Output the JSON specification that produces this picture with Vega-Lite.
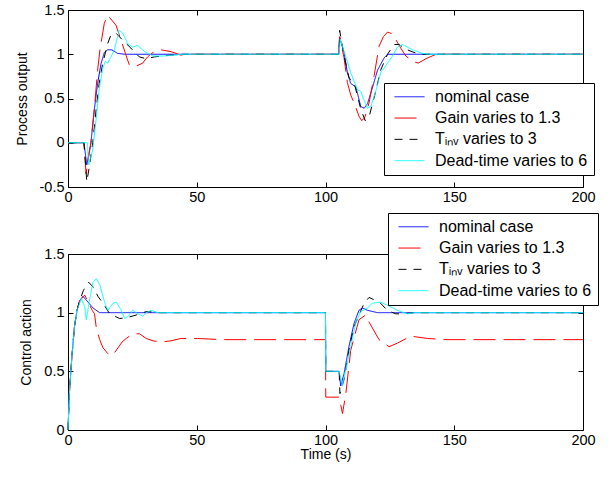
{
 "$schema": "https://vega.github.io/schema/vega-lite/v6.json",
 "background": "white",
 "padding": {"left": 14, "top": 1, "right": 8, "bottom": 8},
 "bounds": "flush",
 "spacing": 67,
 "resolve": {"legend": {"color": "independent", "strokeDash": "independent"}},
 "config": {
  "font": "Liberation Sans",
  "view": {"stroke": "#000", "strokeWidth": 1},
  "axis": {"domain": false, "grid": false, "tickSize": -5, "tickColor": "#000", "labelColor": "#000", "labelFontSize": 14.5, "labelFont": "Liberation Sans", "titleFont": "Liberation Sans", "titleFontWeight": "normal", "titleColor": "#000", "titleFontSize": 14, "labelPadding": 9, "titlePadding": 10},
  "axisX": {"labelFlush": false, "labelPadding": 8, "titlePadding": 1},
  "legend": {"orient": "none", "title": null, "fillColor": "white", "strokeColor": "black", "padding": 6, "symbolType": "stroke", "symbolSize": 900, "symbolStrokeWidth": 1, "labelFontSize": 16, "labelFont": "Liberation Sans", "labelColor": "black", "rowPadding": 4.3, "clipHeight": 15.5, "labelOffset": 10, "symbolOffset": 4, "labelLimit": 400}
 },
 "datasets": {
  "proc": [
   {"s":"nominal case","t":0,"v":0},{"s":"nominal case","t":6.2,"v":0},{"s":"nominal case","t":7.3,"v":-0.25},{"s":"nominal case","t":8.9,"v":0},{"s":"nominal case","t":10.2,"v":0.37},{"s":"nominal case","t":11.5,"v":0.67},{"s":"nominal case","t":12.8,"v":0.89},{"s":"nominal case","t":14.1,"v":1.02},{"s":"nominal case","t":15.4,"v":1.05},{"s":"nominal case","t":17,"v":1.05},{"s":"nominal case","t":19.3,"v":1.01},{"s":"nominal case","t":22,"v":1.0},{"s":"nominal case","t":105.2,"v":1.0},{"s":"nominal case","t":105.5,"v":1.19},{"s":"nominal case","t":107.2,"v":1.02},{"s":"nominal case","t":108.5,"v":0.79},{"s":"nominal case","t":109.8,"v":0.67},{"s":"nominal case","t":111.8,"v":0.63},{"s":"nominal case","t":113.7,"v":0.41},{"s":"nominal case","t":115,"v":0.39},{"s":"nominal case","t":116.3,"v":0.44},{"s":"nominal case","t":118.3,"v":0.63},{"s":"nominal case","t":120.2,"v":0.82},{"s":"nominal case","t":122.8,"v":0.96},{"s":"nominal case","t":124.1,"v":1.0},{"s":"nominal case","t":200,"v":1.0},
   {"s":"Gain varies to 1.3","t":0,"v":0},{"s":"Gain varies to 1.3","t":6.2,"v":0},{"s":"Gain varies to 1.3","t":7.0,"v":-0.35},{"s":"Gain varies to 1.3","t":8.9,"v":0},{"s":"Gain varies to 1.3","t":10.2,"v":0.37},{"s":"Gain varies to 1.3","t":11.5,"v":0.82},{"s":"Gain varies to 1.3","t":12.4,"v":1.05},{"s":"Gain varies to 1.3","t":14.1,"v":1.35},{"s":"Gain varies to 1.3","t":15.4,"v":1.44},{"s":"Gain varies to 1.3","t":18.6,"v":1.33},{"s":"Gain varies to 1.3","t":20.6,"v":1.16},{"s":"Gain varies to 1.3","t":22.5,"v":0.99},{"s":"Gain varies to 1.3","t":23.8,"v":0.88},{"s":"Gain varies to 1.3","t":26,"v":0.86},{"s":"Gain varies to 1.3","t":29,"v":0.9},{"s":"Gain varies to 1.3","t":30.9,"v":0.97},{"s":"Gain varies to 1.3","t":33,"v":1.02},{"s":"Gain varies to 1.3","t":36.1,"v":1.05},{"s":"Gain varies to 1.3","t":40,"v":1.03},{"s":"Gain varies to 1.3","t":43.8,"v":0.99},{"s":"Gain varies to 1.3","t":47,"v":1.0},{"s":"Gain varies to 1.3","t":105.2,"v":1.0},{"s":"Gain varies to 1.3","t":105.5,"v":1.2},{"s":"Gain varies to 1.3","t":107.2,"v":0.96},{"s":"Gain varies to 1.3","t":108.5,"v":0.68},{"s":"Gain varies to 1.3","t":109.8,"v":0.54},{"s":"Gain varies to 1.3","t":111.5,"v":0.42},{"s":"Gain varies to 1.3","t":113,"v":0.3},{"s":"Gain varies to 1.3","t":114,"v":0.25},{"s":"Gain varies to 1.3","t":115.2,"v":0.28},{"s":"Gain varies to 1.3","t":116.9,"v":0.45},{"s":"Gain varies to 1.3","t":118.9,"v":0.76},{"s":"Gain varies to 1.3","t":120.8,"v":1.09},{"s":"Gain varies to 1.3","t":122.5,"v":1.2},{"s":"Gain varies to 1.3","t":124.1,"v":1.25},{"s":"Gain varies to 1.3","t":126,"v":1.23},{"s":"Gain varies to 1.3","t":129.2,"v":1.07},{"s":"Gain varies to 1.3","t":131.2,"v":0.98},{"s":"Gain varies to 1.3","t":133.8,"v":0.92},{"s":"Gain varies to 1.3","t":136,"v":0.9},{"s":"Gain varies to 1.3","t":139,"v":0.95},{"s":"Gain varies to 1.3","t":143,"v":1.0},{"s":"Gain varies to 1.3","t":200,"v":1.0},
   {"s":"Tᵢₙᵥ varies to 3","t":0,"v":0},{"s":"Tᵢₙᵥ varies to 3","t":6.2,"v":0},{"s":"Tᵢₙᵥ varies to 3","t":7.3,"v":-0.44},{"s":"Tᵢₙᵥ varies to 3","t":8.3,"v":-0.27},{"s":"Tᵢₙᵥ varies to 3","t":9.6,"v":0},{"s":"Tᵢₙᵥ varies to 3","t":10.9,"v":0.37},{"s":"Tᵢₙᵥ varies to 3","t":12.1,"v":0.67},{"s":"Tᵢₙᵥ varies to 3","t":13.5,"v":0.9},{"s":"Tᵢₙᵥ varies to 3","t":15.4,"v":1.12},{"s":"Tᵢₙᵥ varies to 3","t":16.7,"v":1.22},{"s":"Tᵢₙᵥ varies to 3","t":18.6,"v":1.24},{"s":"Tᵢₙᵥ varies to 3","t":21.2,"v":1.16},{"s":"Tᵢₙᵥ varies to 3","t":24.4,"v":1.07},{"s":"Tᵢₙᵥ varies to 3","t":27.7,"v":0.97},{"s":"Tᵢₙᵥ varies to 3","t":30.3,"v":0.95},{"s":"Tᵢₙᵥ varies to 3","t":33.5,"v":0.97},{"s":"Tᵢₙᵥ varies to 3","t":40,"v":0.99},{"s":"Tᵢₙᵥ varies to 3","t":45,"v":1.0},{"s":"Tᵢₙᵥ varies to 3","t":105.2,"v":1.0},{"s":"Tᵢₙᵥ varies to 3","t":105.5,"v":1.27},{"s":"Tᵢₙᵥ varies to 3","t":107.2,"v":0.98},{"s":"Tᵢₙᵥ varies to 3","t":109.2,"v":0.73},{"s":"Tᵢₙᵥ varies to 3","t":111.1,"v":0.68},{"s":"Tᵢₙᵥ varies to 3","t":113.7,"v":0.38},{"s":"Tᵢₙᵥ varies to 3","t":115.4,"v":0.25},{"s":"Tᵢₙᵥ varies to 3","t":116.9,"v":0.29},{"s":"Tᵢₙᵥ varies to 3","t":119.5,"v":0.58},{"s":"Tᵢₙᵥ varies to 3","t":121.4,"v":0.82},{"s":"Tᵢₙᵥ varies to 3","t":124.1,"v":1.0},{"s":"Tᵢₙᵥ varies to 3","t":126.6,"v":1.11},{"s":"Tᵢₙᵥ varies to 3","t":128.5,"v":1.11},{"s":"Tᵢₙᵥ varies to 3","t":131.8,"v":1.05},{"s":"Tᵢₙᵥ varies to 3","t":134.4,"v":1.02},{"s":"Tᵢₙᵥ varies to 3","t":138,"v":1.0},{"s":"Tᵢₙᵥ varies to 3","t":200,"v":1.0},
   {"s":"Dead-time varies to 6","t":0,"v":0},{"s":"Dead-time varies to 6","t":7.5,"v":0},{"s":"Dead-time varies to 6","t":8.0,"v":-0.25},{"s":"Dead-time varies to 6","t":9.6,"v":-0.08},{"s":"Dead-time varies to 6","t":10.9,"v":0.26},{"s":"Dead-time varies to 6","t":12.1,"v":0.6},{"s":"Dead-time varies to 6","t":13.5,"v":0.84},{"s":"Dead-time varies to 6","t":14.5,"v":0.92},{"s":"Dead-time varies to 6","t":15.4,"v":0.9},{"s":"Dead-time varies to 6","t":16.7,"v":0.97},{"s":"Dead-time varies to 6","t":18,"v":1.05},{"s":"Dead-time varies to 6","t":19.9,"v":1.27},{"s":"Dead-time varies to 6","t":21.2,"v":1.24},{"s":"Dead-time varies to 6","t":21.9,"v":1.2},{"s":"Dead-time varies to 6","t":23.2,"v":1.12},{"s":"Dead-time varies to 6","t":25.1,"v":1.08},{"s":"Dead-time varies to 6","t":27,"v":1.1},{"s":"Dead-time varies to 6","t":29,"v":1.05},{"s":"Dead-time varies to 6","t":30.3,"v":1.02},{"s":"Dead-time varies to 6","t":33,"v":0.98},{"s":"Dead-time varies to 6","t":37,"v":0.98},{"s":"Dead-time varies to 6","t":41,"v":0.99},{"s":"Dead-time varies to 6","t":45,"v":1.0},{"s":"Dead-time varies to 6","t":105.3,"v":1.0},{"s":"Dead-time varies to 6","t":105.7,"v":1.17},{"s":"Dead-time varies to 6","t":107.8,"v":0.98},{"s":"Dead-time varies to 6","t":109.8,"v":0.79},{"s":"Dead-time varies to 6","t":112.4,"v":0.6},{"s":"Dead-time varies to 6","t":113.7,"v":0.58},{"s":"Dead-time varies to 6","t":114.4,"v":0.52},{"s":"Dead-time varies to 6","t":116.3,"v":0.39},{"s":"Dead-time varies to 6","t":117.6,"v":0.41},{"s":"Dead-time varies to 6","t":119.5,"v":0.58},{"s":"Dead-time varies to 6","t":121.4,"v":0.79},{"s":"Dead-time varies to 6","t":124.1,"v":0.9},{"s":"Dead-time varies to 6","t":126,"v":0.98},{"s":"Dead-time varies to 6","t":127.9,"v":1.08},{"s":"Dead-time varies to 6","t":129.9,"v":1.11},{"s":"Dead-time varies to 6","t":133.8,"v":1.05},{"s":"Dead-time varies to 6","t":137.7,"v":1.01},{"s":"Dead-time varies to 6","t":140,"v":1.0},{"s":"Dead-time varies to 6","t":200,"v":1.0}
  ],
  "ctrl": [
   {"s":"nominal case","t":0,"v":0},{"s":"nominal case","t":0.5,"v":0.3},{"s":"nominal case","t":1.5,"v":0.62},{"s":"nominal case","t":2.5,"v":0.88},{"s":"nominal case","t":3.5,"v":1.02},{"s":"nominal case","t":4.5,"v":1.1},{"s":"nominal case","t":5.8,"v":1.14},{"s":"nominal case","t":7.8,"v":1.09},{"s":"nominal case","t":9.7,"v":1.04},{"s":"nominal case","t":12.3,"v":1.0},{"s":"nominal case","t":100,"v":1.0},{"s":"nominal case","t":100.1,"v":0.5},{"s":"nominal case","t":105.3,"v":0.5},{"s":"nominal case","t":105.9,"v":0.375},{"s":"nominal case","t":107.2,"v":0.48},{"s":"nominal case","t":109.1,"v":0.71},{"s":"nominal case","t":111.1,"v":0.91},{"s":"nominal case","t":113,"v":1.02},{"s":"nominal case","t":114.3,"v":1.04},{"s":"nominal case","t":116.3,"v":1.02},{"s":"nominal case","t":120.2,"v":1.0},{"s":"nominal case","t":200,"v":1.0},
   {"s":"Gain varies to 1.3","t":0,"v":0},{"s":"Gain varies to 1.3","t":0.5,"v":0.3},{"s":"Gain varies to 1.3","t":1.5,"v":0.62},{"s":"Gain varies to 1.3","t":2.5,"v":0.88},{"s":"Gain varies to 1.3","t":3.5,"v":1.02},{"s":"Gain varies to 1.3","t":4.5,"v":1.1},{"s":"Gain varies to 1.3","t":6.5,"v":1.15},{"s":"Gain varies to 1.3","t":9.4,"v":1.02},{"s":"Gain varies to 1.3","t":10.3,"v":0.99},{"s":"Gain varies to 1.3","t":11,"v":0.87},{"s":"Gain varies to 1.3","t":12.3,"v":0.77},{"s":"Gain varies to 1.3","t":13.6,"v":0.7},{"s":"Gain varies to 1.3","t":15.5,"v":0.65},{"s":"Gain varies to 1.3","t":17.5,"v":0.64},{"s":"Gain varies to 1.3","t":19.4,"v":0.7},{"s":"Gain varies to 1.3","t":21,"v":0.75},{"s":"Gain varies to 1.3","t":22.6,"v":0.78},{"s":"Gain varies to 1.3","t":25.2,"v":0.82},{"s":"Gain varies to 1.3","t":27.8,"v":0.82},{"s":"Gain varies to 1.3","t":30.4,"v":0.78},{"s":"Gain varies to 1.3","t":33,"v":0.76},{"s":"Gain varies to 1.3","t":36.1,"v":0.75},{"s":"Gain varies to 1.3","t":40,"v":0.76},{"s":"Gain varies to 1.3","t":43.8,"v":0.78},{"s":"Gain varies to 1.3","t":50.3,"v":0.78},{"s":"Gain varies to 1.3","t":60,"v":0.77},{"s":"Gain varies to 1.3","t":100,"v":0.77},{"s":"Gain varies to 1.3","t":100.1,"v":0.28},{"s":"Gain varies to 1.3","t":105.3,"v":0.28},{"s":"Gain varies to 1.3","t":106.6,"v":0.14},{"s":"Gain varies to 1.3","t":107.9,"v":0.31},{"s":"Gain varies to 1.3","t":109.8,"v":0.68},{"s":"Gain varies to 1.3","t":113,"v":0.94},{"s":"Gain varies to 1.3","t":115.6,"v":0.98},{"s":"Gain varies to 1.3","t":116.9,"v":0.92},{"s":"Gain varies to 1.3","t":120.8,"v":0.77},{"s":"Gain varies to 1.3","t":124.7,"v":0.71},{"s":"Gain varies to 1.3","t":127.9,"v":0.74},{"s":"Gain varies to 1.3","t":133.1,"v":0.8},{"s":"Gain varies to 1.3","t":139.6,"v":0.78},{"s":"Gain varies to 1.3","t":147.3,"v":0.77},{"s":"Gain varies to 1.3","t":200,"v":0.77},
   {"s":"Tᵢₙᵥ varies to 3","t":0,"v":0},{"s":"Tᵢₙᵥ varies to 3","t":0.5,"v":0.3},{"s":"Tᵢₙᵥ varies to 3","t":1.5,"v":0.62},{"s":"Tᵢₙᵥ varies to 3","t":2.5,"v":0.88},{"s":"Tᵢₙᵥ varies to 3","t":3.5,"v":1.02},{"s":"Tᵢₙᵥ varies to 3","t":4.5,"v":1.1},{"s":"Tᵢₙᵥ varies to 3","t":6,"v":1.19},{"s":"Tᵢₙᵥ varies to 3","t":8,"v":1.26},{"s":"Tᵢₙᵥ varies to 3","t":9.7,"v":1.22},{"s":"Tᵢₙᵥ varies to 3","t":11.6,"v":1.14},{"s":"Tᵢₙᵥ varies to 3","t":13.6,"v":1.08},{"s":"Tᵢₙᵥ varies to 3","t":16.2,"v":0.99},{"s":"Tᵢₙᵥ varies to 3","t":20.1,"v":0.95},{"s":"Tᵢₙᵥ varies to 3","t":23.3,"v":0.96},{"s":"Tᵢₙᵥ varies to 3","t":26.5,"v":0.98},{"s":"Tᵢₙᵥ varies to 3","t":30.5,"v":1.01},{"s":"Tᵢₙᵥ varies to 3","t":35,"v":1.0},{"s":"Tᵢₙᵥ varies to 3","t":100,"v":1.0},{"s":"Tᵢₙᵥ varies to 3","t":100.1,"v":0.5},{"s":"Tᵢₙᵥ varies to 3","t":105.3,"v":0.5},{"s":"Tᵢₙᵥ varies to 3","t":105.6,"v":0.31},{"s":"Tᵢₙᵥ varies to 3","t":107.2,"v":0.43},{"s":"Tᵢₙᵥ varies to 3","t":109.1,"v":0.68},{"s":"Tᵢₙᵥ varies to 3","t":111.1,"v":0.88},{"s":"Tᵢₙᵥ varies to 3","t":113,"v":0.98},{"s":"Tᵢₙᵥ varies to 3","t":115,"v":1.08},{"s":"Tᵢₙᵥ varies to 3","t":116.9,"v":1.13},{"s":"Tᵢₙᵥ varies to 3","t":118.8,"v":1.11},{"s":"Tᵢₙᵥ varies to 3","t":121.4,"v":1.08},{"s":"Tᵢₙᵥ varies to 3","t":124,"v":1.02},{"s":"Tᵢₙᵥ varies to 3","t":127.3,"v":0.99},{"s":"Tᵢₙᵥ varies to 3","t":130.5,"v":0.99},{"s":"Tᵢₙᵥ varies to 3","t":134.4,"v":1.0},{"s":"Tᵢₙᵥ varies to 3","t":200,"v":1.0},
   {"s":"Dead-time varies to 6","t":0,"v":0},{"s":"Dead-time varies to 6","t":0.5,"v":0.3},{"s":"Dead-time varies to 6","t":1.5,"v":0.62},{"s":"Dead-time varies to 6","t":2.5,"v":0.88},{"s":"Dead-time varies to 6","t":3.5,"v":1.02},{"s":"Dead-time varies to 6","t":5.2,"v":1.12},{"s":"Dead-time varies to 6","t":6.5,"v":1.05},{"s":"Dead-time varies to 6","t":7.1,"v":0.94},{"s":"Dead-time varies to 6","t":8.4,"v":1.11},{"s":"Dead-time varies to 6","t":9.7,"v":1.26},{"s":"Dead-time varies to 6","t":11,"v":1.29},{"s":"Dead-time varies to 6","t":12.3,"v":1.24},{"s":"Dead-time varies to 6","t":14.2,"v":1.09},{"s":"Dead-time varies to 6","t":15.5,"v":1.02},{"s":"Dead-time varies to 6","t":17.5,"v":1.08},{"s":"Dead-time varies to 6","t":18.8,"v":1.09},{"s":"Dead-time varies to 6","t":20.7,"v":1.02},{"s":"Dead-time varies to 6","t":22,"v":0.95},{"s":"Dead-time varies to 6","t":23.5,"v":0.97},{"s":"Dead-time varies to 6","t":25.1,"v":1.02},{"s":"Dead-time varies to 6","t":27.2,"v":0.99},{"s":"Dead-time varies to 6","t":29,"v":0.97},{"s":"Dead-time varies to 6","t":30.4,"v":1.0},{"s":"Dead-time varies to 6","t":32.2,"v":1.02},{"s":"Dead-time varies to 6","t":35,"v":1.0},{"s":"Dead-time varies to 6","t":100,"v":1.0},{"s":"Dead-time varies to 6","t":100.1,"v":0.5},{"s":"Dead-time varies to 6","t":105.3,"v":0.5},{"s":"Dead-time varies to 6","t":106.6,"v":0.38},{"s":"Dead-time varies to 6","t":109.8,"v":0.71},{"s":"Dead-time varies to 6","t":111.7,"v":0.91},{"s":"Dead-time varies to 6","t":113.7,"v":1.01},{"s":"Dead-time varies to 6","t":116.3,"v":1.04},{"s":"Dead-time varies to 6","t":118.2,"v":1.08},{"s":"Dead-time varies to 6","t":121.4,"v":1.09},{"s":"Dead-time varies to 6","t":125.3,"v":1.05},{"s":"Dead-time varies to 6","t":127.9,"v":1.02},{"s":"Dead-time varies to 6","t":131.8,"v":0.99},{"s":"Dead-time varies to 6","t":134.4,"v":1.0},{"s":"Dead-time varies to 6","t":200,"v":1.0}
  ]
 },
 "vconcat": [
  {
   "width": 515, "height": 177,
   "data": {"name": "proc"},
   "layer": [
    {
     "mark": {"type": "line", "strokeWidth": 1},
     "encoding": {
      "x": {"field": "t", "type": "quantitative", "scale": {"domain": [0, 200], "nice": false}, "axis": {"orient": "bottom", "values": [0, 50, 100, 150, 200], "title": null}},
      "y": {"field": "v", "type": "quantitative", "scale": {"domain": [-0.5, 1.5], "nice": false}, "axis": {"orient": "left", "values": [-0.5, 0, 0.5, 1, 1.5], "title": "Process output", "labelExpr": "datum.value < 0 ? '-' + (-datum.value) : '' + datum.value"}},
      "color": {"field": "s", "type": "nominal", "scale": {"domain": ["nominal case", "Gain varies to 1.3", "Tᵢₙᵥ varies to 3", "Dead-time varies to 6"], "range": ["#0000ff", "#ff0000", "#000000", "#00ffff"]}, "legend": {"orient": "none", "legendX": 316, "legendY": 73}},
      "strokeDash": {"field": "s", "type": "nominal", "scale": {"domain": ["nominal case", "Gain varies to 1.3", "Tᵢₙᵥ varies to 3", "Dead-time varies to 6"], "range": [[1, 0], [22, 8], [8, 7], [1, 0]]}, "legend": {"orient": "none", "legendX": 316, "legendY": 73}}
     }
    },
    {
     "mark": {"type": "line", "opacity": 0},
     "encoding": {
      "x": {"field": "t", "type": "quantitative", "scale": {"domain": [0, 200], "nice": false}, "axis": {"orient": "top", "values": [0, 50, 100, 150, 200], "labels": false, "title": null}},
      "y": {"field": "v", "type": "quantitative", "scale": {"domain": [-0.5, 1.5], "nice": false}, "axis": {"orient": "right", "values": [-0.5, 0, 0.5, 1, 1.5], "labels": false, "title": null}}
     }
    }
   ]
  },
  {
   "width": 515, "height": 176,
   "data": {"name": "ctrl"},
   "layer": [
    {
     "mark": {"type": "line", "strokeWidth": 1},
     "encoding": {
      "x": {"field": "t", "type": "quantitative", "scale": {"domain": [0, 200], "nice": false}, "axis": {"orient": "bottom", "values": [0, 50, 100, 150, 200], "title": "Time (s)"}},
      "y": {"field": "v", "type": "quantitative", "scale": {"domain": [0, 1.5], "nice": false}, "axis": {"orient": "left", "values": [0, 0.5, 1, 1.5], "title": "Control action", "labelExpr": "'' + datum.value"}},
      "color": {"field": "s", "type": "nominal", "scale": {"domain": ["nominal case", "Gain varies to 1.3", "Tᵢₙᵥ varies to 3", "Dead-time varies to 6"], "range": ["#0000ff", "#ff0000", "#000000", "#00ffff"]}, "legend": {"orient": "none", "legendX": 320, "legendY": -41}},
      "strokeDash": {"field": "s", "type": "nominal", "scale": {"domain": ["nominal case", "Gain varies to 1.3", "Tᵢₙᵥ varies to 3", "Dead-time varies to 6"], "range": [[1, 0], [22, 8], [8, 7], [1, 0]]}, "legend": {"orient": "none", "legendX": 320, "legendY": -41}}
     }
    },
    {
     "mark": {"type": "line", "opacity": 0},
     "encoding": {
      "x": {"field": "t", "type": "quantitative", "scale": {"domain": [0, 200], "nice": false}, "axis": {"orient": "top", "values": [0, 50, 100, 150, 200], "labels": false, "title": null}},
      "y": {"field": "v", "type": "quantitative", "scale": {"domain": [0, 1.5], "nice": false}, "axis": {"orient": "right", "values": [0, 0.5, 1, 1.5], "labels": false, "title": null}}
     }
    }
   ]
  }
 ]
}
